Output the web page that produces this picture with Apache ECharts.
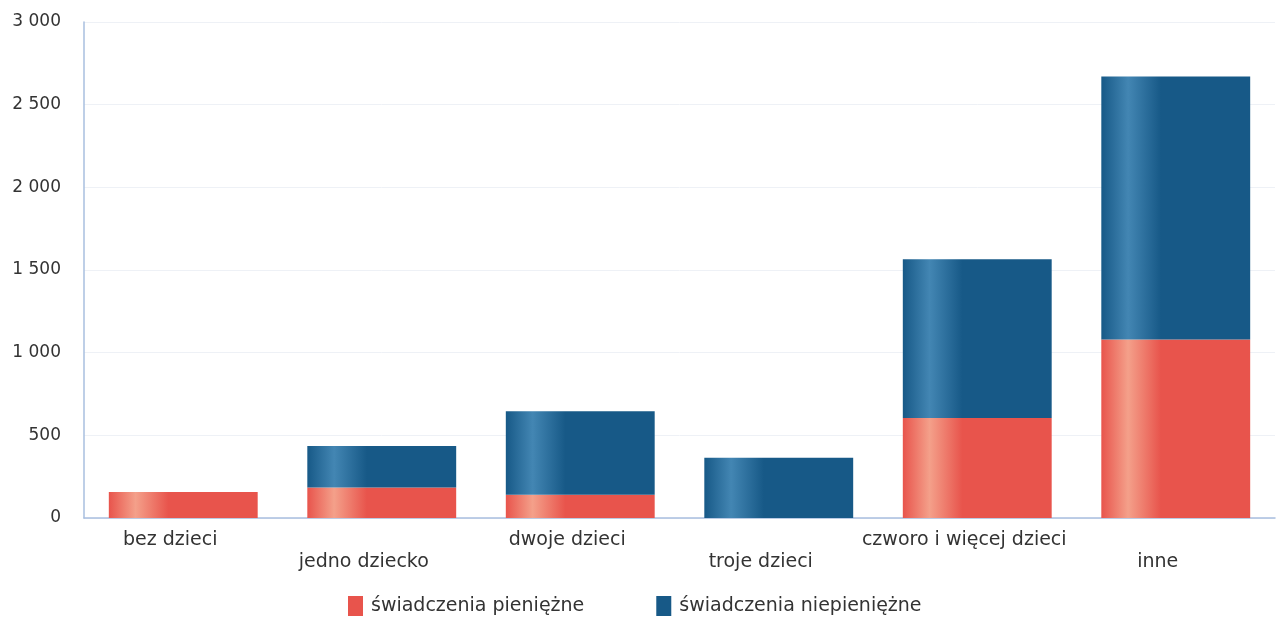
<!DOCTYPE html>
<html><head><meta charset="utf-8">
<script src="https://cdn.jsdelivr.net/npm/echarts@6/dist/echarts.min.js"></script>
<style>html,body{margin:0;padding:0;background:#fff}#c{width:1276px;height:618px}</style>
</head><body><div id="c"></div>
<script>
const categories = ['bez dzieci','jedno dziecko','dwoje dzieci','troje dzieci','czworo i więcej dzieci','inne'];
const seriesNames = ['świadczenia pieniężne','świadczenia niepieniężne'];
const cashValues = [158, 185, 140, 0, 605, 1080];
const nonCashValues = [0, 250, 505, 365, 960, 1590];
const yTicks = [0, 500, 1000, 1500, 2000, 2500, 3000];

function grad(edge, light) {
  return new echarts.graphic.LinearGradient(0,0,1,0,[
    {offset:0, color:edge},{offset:0.18, color:light},{offset:0.4, color:edge},{offset:1, color:edge}
  ]);
}
const chart = echarts.init(document.getElementById('c'));
const font = 'DejaVu Sans';
chart.setOption({
  animation:false,
  textStyle:{fontFamily:font},
  grid:{left:84, right:1, top:22, bottom:100},
  legend:{
    top:591, left:343, itemWidth:15, itemHeight:20, itemGap:72,
    icon:'rect',
    textStyle:{fontSize:19, color:'#333', fontFamily:font, padding:[0,0,0,3]},
    data:[
      {name:seriesNames[0], itemStyle:{color:'#e8544c'}},
      {name:seriesNames[1], itemStyle:{color:'#175987'}}
    ]
  },
  xAxis:{
    type:'category', data:categories,
    axisLine:{lineStyle:{color:'#a9bfdf', width:1.5}},
    axisTick:{show:false},
    axisLabel:{
      interval:0, margin:13, color:'#333', fontSize:19,
      formatter:(v,i)=> (i%2 ? '{b|'+v+'}' : '{a|'+v+'}'),
      rich:{
        a:{fontSize:19, color:'#333', fontFamily:font, padding:[0,26,0,0]},
        b:{fontSize:19, color:'#333', fontFamily:font, padding:[22,36,0,0]}
      }
    }
  },
  yAxis:{
    type:'value', min:yTicks[0], max:yTicks[yTicks.length-1], interval:500,
    axisLine:{show:true, lineStyle:{color:'#a9bfdf', width:1.5}},
    axisTick:{show:false},
    splitLine:{show:true, lineStyle:{color:'#eef1f6', width:1}},
    axisLabel:{margin:23, color:'#333', fontSize:17,
      formatter:v=>String(v).replace(/\B(?=(\d{3})+(?!\d))/g,' ')}
  },
  series:[
    {name:seriesNames[0], type:'bar', stack:'s', barWidth:'75%', data:cashValues,
      itemStyle:{color:grad('#e8544c','#f4a08a')}},
    {name:seriesNames[1], type:'bar', stack:'s', barWidth:'75%', data:nonCashValues,
      itemStyle:{color:grad('#175987','#4386b3')}}
  ]
});
</script></body></html>
